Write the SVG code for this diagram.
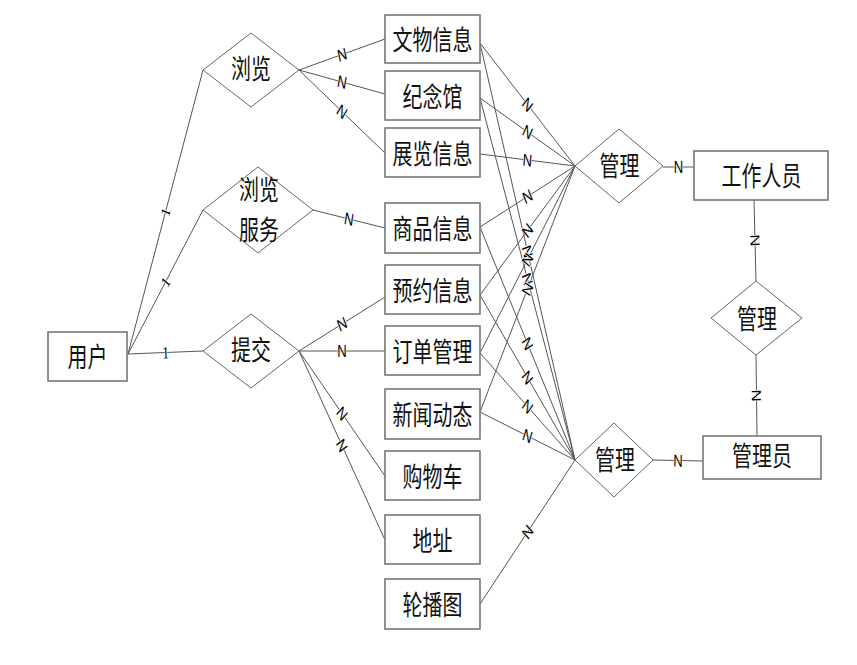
<svg xmlns="http://www.w3.org/2000/svg" width="857" height="665" viewBox="0 0 857 665">
<style>
.bg{fill:#fff}
.box{fill:#fff;stroke:#777;stroke-width:1.6}
.dia{fill:#fff;stroke:#666;stroke-width:1}
.ln{stroke:#555;stroke-width:1;fill:none}
.t{font-family:"Noto Sans CJK SC","Noto Sans",sans-serif;font-size:27px;fill:#111;text-anchor:middle}
.lbl{font-family:"Liberation Sans",Arial,sans-serif;font-size:17px;fill:#000;text-anchor:middle;stroke:#fff;stroke-width:1.5;paint-order:stroke}
.one{font-family:"Liberation Serif","Times New Roman",serif;font-size:17px;fill:#000;text-anchor:middle;stroke:#fff;stroke-width:1.5;paint-order:stroke}
</style>
<rect class="bg" x="0" y="0" width="857" height="665"/>
<g id="connectors">
<g class="ln">
<line x1="128" y1="354" x2="203" y2="70"/>
<line x1="128" y1="354" x2="203" y2="210"/>
<line x1="128" y1="354" x2="203" y2="351"/>
<line x1="299" y1="70" x2="385" y2="39"/>
<line x1="299" y1="70" x2="385" y2="94"/>
<line x1="299" y1="70" x2="385" y2="153"/>
<line x1="313" y1="210" x2="385" y2="228"/>
<line x1="299" y1="351" x2="385" y2="297"/>
<line x1="299" y1="351" x2="385" y2="351"/>
<line x1="299" y1="351" x2="385" y2="476"/>
<line x1="299" y1="351" x2="385" y2="540"/>
<line x1="480" y1="43" x2="575" y2="166"/>
<line x1="480" y1="43" x2="575" y2="460"/>
<line x1="480" y1="98" x2="575" y2="166"/>
<line x1="480" y1="98" x2="575" y2="460"/>
<line x1="480" y1="154" x2="575" y2="166"/>
<line x1="480" y1="227" x2="575" y2="166"/>
<line x1="480" y1="227" x2="575" y2="460"/>
<line x1="480" y1="295" x2="575" y2="166"/>
<line x1="480" y1="295" x2="575" y2="460"/>
<line x1="480" y1="353" x2="575" y2="166"/>
<line x1="480" y1="353" x2="575" y2="460"/>
<line x1="480" y1="412" x2="575" y2="166"/>
<line x1="480" y1="412" x2="575" y2="460"/>
<line x1="480" y1="604" x2="575" y2="460"/>
<line x1="663" y1="167" x2="694" y2="167"/>
<line x1="754" y1="200" x2="756" y2="281"/>
<line x1="756" y1="355" x2="757" y2="436"/>
<line x1="653" y1="460" x2="703" y2="461"/>
</g>
<text class="one" transform="translate(165.5,212) scale(0.77,1) rotate(-71.1)" y="5.8">1</text>
<text class="one" transform="translate(165.5,282) scale(0.77,1) rotate(-55.9)" y="5.8">1</text>
<text class="one" transform="translate(165.5,352.5) scale(0.77,1) rotate(-1.8)" y="5.8">1</text>
<text class="lbl" transform="translate(342,54.5) scale(0.77,1) rotate(-15.5)" y="6">N</text>
<text class="lbl" transform="translate(342,82) scale(0.77,1) rotate(12.1)" y="6">N</text>
<text class="lbl" transform="translate(342,111.5) scale(0.77,1) rotate(36.6)" y="6">N</text>
<text class="lbl" transform="translate(349,219) scale(0.77,1) rotate(10.9)" y="6">N</text>
<text class="lbl" transform="translate(342,324) scale(0.77,1) rotate(-25.8)" y="6">N</text>
<text class="lbl" transform="translate(342,351) scale(0.77,1)" y="6">N</text>
<text class="lbl" transform="translate(342,413.5) scale(0.77,1) rotate(48.2)" y="6">N</text>
<text class="lbl" transform="translate(342,445.5) scale(0.77,1) rotate(59.4)" y="6">N</text>
<text class="lbl" transform="translate(527.5,104.5) scale(0.77,1) rotate(44.9)" y="6">N</text>
<text class="lbl" transform="translate(527.5,251.5) scale(0.77,1) rotate(73.5)" y="6">N</text>
<text class="lbl" transform="translate(527.5,132) scale(0.77,1) rotate(28.9)" y="6">N</text>
<text class="lbl" transform="translate(527.5,279) scale(0.77,1) rotate(71.2)" y="6">N</text>
<text class="lbl" transform="translate(527.5,160) scale(0.77,1) rotate(5.6)" y="6">N</text>
<text class="lbl" transform="translate(527.5,196.5) scale(0.77,1) rotate(-26.3)" y="6">N</text>
<text class="lbl" transform="translate(527.5,343.5) scale(0.77,1) rotate(62.1)" y="6">N</text>
<text class="lbl" transform="translate(527.5,230.5) scale(0.77,1) rotate(-46.3)" y="6">N</text>
<text class="lbl" transform="translate(527.5,377.5) scale(0.77,1) rotate(53.2)" y="6">N</text>
<text class="lbl" transform="translate(527.5,259.5) scale(0.77,1) rotate(-56.6)" y="6">N</text>
<text class="lbl" transform="translate(527.5,406.5) scale(0.77,1) rotate(40.9)" y="6">N</text>
<text class="lbl" transform="translate(527.5,289) scale(0.77,1) rotate(-63.4)" y="6">N</text>
<text class="lbl" transform="translate(527.5,436) scale(0.77,1) rotate(21.3)" y="6">N</text>
<text class="lbl" transform="translate(527.5,532) scale(0.77,1) rotate(-49.4)" y="6">N</text>
<text class="lbl" transform="translate(678.5,167) scale(0.77,1)" y="6">N</text>
<text class="lbl" transform="translate(755,240.5) scale(0.77,1) rotate(88.2)" y="6">N</text>
<text class="lbl" transform="translate(756.5,395.5) scale(0.77,1) rotate(89.5)" y="6">N</text>
<text class="lbl" transform="translate(678,460.5) scale(0.77,1) rotate(0.9)" y="6">N</text>
</g>
<g id="user"><rect class="box" x="48" y="332" width="79" height="49"/><text class="t" transform="translate(87.5,366.8) scale(0.74,1)">用户</text></g>
<g id="browse"><polygon class="dia" points="203,70 251,33 299,70 251,107"/><text class="t" transform="translate(251,78.8) scale(0.74,1)">浏览</text></g>
<g id="browse-service"><polygon class="dia" points="203,210 258,167 313,210 258,253"/><text class="t" transform="translate(259,200.3) scale(0.74,1)">浏览</text><text class="t" transform="translate(259,240.3) scale(0.74,1)">服务</text></g>
<g id="submit"><polygon class="dia" points="203,351 251,314 299,351 251,388"/><text class="t" transform="translate(251,360.3) scale(0.74,1)">提交</text></g>
<g id="relic"><rect class="box" x="385" y="15" width="95" height="48"/><text class="t" transform="translate(432.5,50.3) scale(0.74,1)">文物信息</text></g>
<g id="memorial"><rect class="box" x="385" y="71" width="95" height="49"/><text class="t" transform="translate(432.5,106.8) scale(0.74,1)">纪念馆</text></g>
<g id="exhibition"><rect class="box" x="385" y="128" width="95" height="49"/><text class="t" transform="translate(432.5,163.8) scale(0.74,1)">展览信息</text></g>
<g id="goods"><rect class="box" x="385" y="203" width="95" height="50"/><text class="t" transform="translate(432.5,239.3) scale(0.74,1)">商品信息</text></g>
<g id="booking"><rect class="box" x="385" y="265" width="95" height="49"/><text class="t" transform="translate(432.5,300.8) scale(0.74,1)">预约信息</text></g>
<g id="order"><rect class="box" x="385" y="326" width="95" height="49"/><text class="t" transform="translate(432.5,361.8) scale(0.74,1)">订单管理</text></g>
<g id="news"><rect class="box" x="385" y="389" width="95" height="50"/><text class="t" transform="translate(432.5,425.3) scale(0.74,1)">新闻动态</text></g>
<g id="cart"><rect class="box" x="385" y="451" width="95" height="49"/><text class="t" transform="translate(432.5,486.8) scale(0.74,1)">购物车</text></g>
<g id="address"><rect class="box" x="385" y="515" width="95" height="49"/><text class="t" transform="translate(432.5,550.8) scale(0.74,1)">地址</text></g>
<g id="carousel"><rect class="box" x="385" y="579" width="95" height="50"/><text class="t" transform="translate(432.5,615.3) scale(0.74,1)">轮播图</text></g>
<g id="manage-top"><polygon class="dia" points="575,166 619,129 663,166 619,203"/><text class="t" transform="translate(619.5,176.3) scale(0.74,1)">管理</text></g>
<g id="manage-bottom"><polygon class="dia" points="575,460 614,423 653,460 614,497"/><text class="t" transform="translate(615,470.3) scale(0.74,1)">管理</text></g>
<g id="manage-right"><polygon class="dia" points="711,318 756,281 802,318 756,355"/><text class="t" transform="translate(757,328.8) scale(0.74,1)">管理</text></g>
<g id="staff"><rect class="box" x="694" y="151" width="134" height="49"/><text class="t" transform="translate(761.5,185.8) scale(0.74,1)">工作人员</text></g>
<g id="admin"><rect class="box" x="703" y="436" width="118" height="43"/><text class="t" transform="translate(762,466.3) scale(0.74,1)">管理员</text></g>
</svg>
